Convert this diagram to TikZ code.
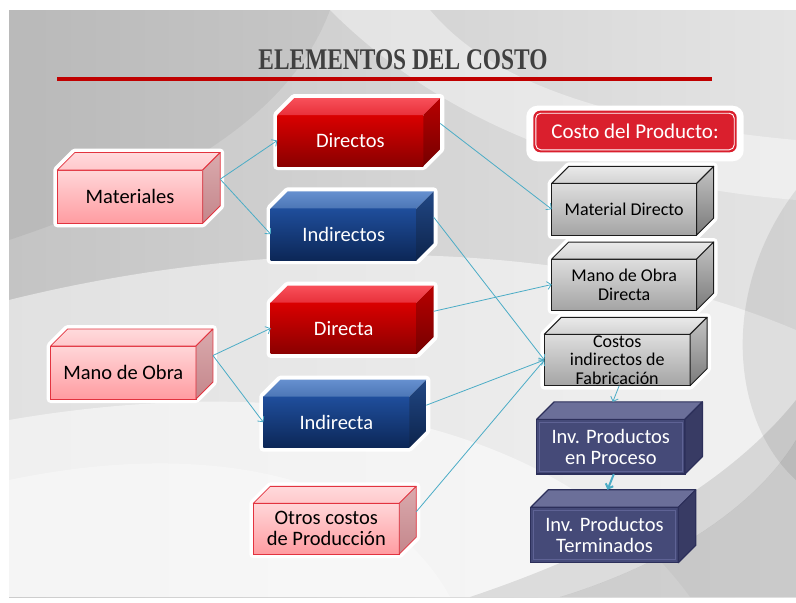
\documentclass[tikz,border=0pt]{standalone}
\usepackage{graphicx}
\usepackage{fontspec}
\setmainfont{Carlito}
\newfontfamily\titlefont{Liberation Serif}
\usetikzlibrary{arrows.meta}
\pgfdeclarelayer{bg}
\pgfdeclarelayer{glow}
\pgfsetlayers{bg,glow,main}

\definecolor{pinkTop}{HTML}{FFD6D8}
\definecolor{pinkBot}{HTML}{FF9CA1}
\definecolor{pinkBorder}{HTML}{E2333F}
\definecolor{pinkTF1}{HTML}{FFDADC}
\definecolor{pinkTF2}{HTML}{FFC8CB}
\definecolor{pinkS1}{HTML}{DAAAAD}
\definecolor{pinkS2}{HTML}{C4868B}
\definecolor{redTop}{HTML}{DA0000}
\definecolor{redBot}{HTML}{8A0000}
\definecolor{redTF1}{HTML}{F8505A}
\definecolor{redTF2}{HTML}{E8303A}
\definecolor{redS1}{HTML}{B80000}
\definecolor{redS2}{HTML}{760000}
\definecolor{blueTop}{HTML}{1F4E9C}
\definecolor{blueBot}{HTML}{0C2757}
\definecolor{blueTF1}{HTML}{6690CF}
\definecolor{blueTF2}{HTML}{4C76B6}
\definecolor{blueS1}{HTML}{214784}
\definecolor{blueS2}{HTML}{0D244C}
\definecolor{grayTop}{HTML}{DEDEDE}
\definecolor{grayBot}{HTML}{A4A4A4}
\definecolor{grayTF1}{HTML}{EAEAEA}
\definecolor{grayTF2}{HTML}{D2D2D2}
\definecolor{grayS1}{HTML}{C4C4C4}
\definecolor{grayS2}{HTML}{7A7A7A}
\definecolor{grayBorder}{HTML}{1C1C1C}
\definecolor{navyFront}{HTML}{454A78}
\definecolor{navyTF}{HTML}{6B6F99}
\definecolor{navySide}{HTML}{383B64}
\definecolor{navyBorder}{HTML}{2C2F5A}
\definecolor{navyInner}{HTML}{5E6294}
\definecolor{cdpRed}{HTML}{DA1F2D}
\definecolor{arrowc}{HTML}{4BACC6}
\definecolor{titleGray}{HTML}{404040}
\definecolor{titleRed}{HTML}{C00000}
\definecolor{bgA}{HTML}{C4C4C4}
\definecolor{bgB}{HTML}{E4E4E4}

\tikzset{
  fr/.style 2 args={rectangle, inner sep=0pt, outer sep=0pt, minimum width=#1pt, minimum height=#2pt, align=center},
  pinkbox/.style={top color=pinkTop, bottom color=pinkBot, draw=pinkBorder, line width=0.8pt, text=black, font=\fontsize{20.5}{21}\selectfont},
  pinktopf/.style={top color=pinkTF1, bottom color=pinkTF2, draw=pinkBorder, line width=0.8pt, line join=round},
  pinksidef/.style={top color=pinkS1, bottom color=pinkS2, draw=pinkBorder, line width=0.8pt, line join=round},
  redbox/.style={top color=redTop, bottom color=redBot, text=white, font=\fontsize{20.5}{21}\selectfont},
  redtopf/.style={top color=redTF1, bottom color=redTF2},
  redsidef/.style={top color=redS1, bottom color=redS2},
  bluebox/.style={top color=blueTop, bottom color=blueBot, text=white, font=\fontsize{20.5}{21}\selectfont},
  bluetopf/.style={top color=blueTF1, bottom color=blueTF2},
  bluesidef/.style={top color=blueS1, bottom color=blueS2},
  graybox/.style={top color=grayTop, bottom color=grayBot, draw=grayBorder, line width=1pt, text=black, font=\fontsize{18}{18.7}\selectfont},
  graytopf/.style={top color=grayTF1, bottom color=grayTF2, draw=grayBorder, line width=1pt, line join=round},
  graysidef/.style={top color=grayS1, bottom color=grayS2, draw=grayBorder, line width=1pt, line join=round},
  navybox/.style={fill=navyFront, draw=navyBorder, line width=1.2pt, text=white, font=\fontsize{20.5}{21}\selectfont},
  navytopf/.style={fill=navyTF, draw=navyBorder, line width=1.2pt, line join=round},
  navysidef/.style={fill=navySide, draw=navyBorder, line width=1.2pt, line join=round},
  navyin/.style={draw=navyInner, line width=0.8pt},
  glowline/.style={draw=white, fill=white, line width=8pt, line join=round},
  arr/.style={draw=arrowc, line width=0.8pt, -{Straight Barb[length=4pt,width=8pt]}},
  arrthick/.style={draw=arrowc, line width=2pt, -{Straight Barb[length=4pt,width=8pt]}},
}

\newcommand\cubefaces[4]{%
  \path[#3] (#1.north west) -- ([shift={(#2pt,#2pt)}]#1.north west) -- ([shift={(#2pt,#2pt)}]#1.north east) -- (#1.north east) -- cycle;
  \path[#4] (#1.north east) -- ([shift={(#2pt,#2pt)}]#1.north east) -- ([shift={(#2pt,#2pt)}]#1.south east) -- (#1.south east) -- cycle;
}
\newcommand\cubeglow[2]{%
  \begin{pgfonlayer}{glow}
  \path[glowline] (#1.south west) -- (#1.north west) -- ([shift={(#2pt,#2pt)}]#1.north west) -- ([shift={(#2pt,#2pt)}]#1.north east) -- ([shift={(#2pt,#2pt)}]#1.south east) -- (#1.south east) -- cycle;
  \end{pgfonlayer}
}

\begin{document}
\begin{tikzpicture}[x=1pt,y=-1pt]
\useasboundingbox (0,0) rectangle (796,603);

% ---------- background slide ----------
\begin{pgfonlayer}{bg}
\fill[white] (0,0) rectangle (796,603);
\shade[left color=bgA, right color=bgB] (9,10) rectangle (796,597);
\begin{scope}
\clip (9,10) rectangle (796,597);
\fill[black, opacity=0.05] (9,10) -- (330,10) .. controls (300,90) and (220,170) .. (9,240) -- cycle;
\fill[white, opacity=0.40] (330,10) -- (430,10) .. controls (480,70) and (580,120) .. (796,140) -- (796,200) .. controls (560,180) and (420,100) .. (330,10) -- cycle;
\fill[white, opacity=0.50] (9,300) .. controls (250,240) and (560,230) .. (796,330) -- (796,597) -- (9,597) -- cycle;
\fill[white, opacity=0.50] (9,420) .. controls (300,370) and (560,420) .. (690,597) -- (9,597) -- cycle;
\fill[white, opacity=0.35] (9,480) .. controls (200,440) and (380,470) .. (450,597) -- (9,597) -- cycle;
\fill[black, opacity=0.08] (796,190) .. controls (720,290) and (730,420) .. (796,480) -- cycle;
\fill[black, opacity=0.16] (560,597) .. controls (680,560) and (760,500) .. (796,440) -- (796,597) -- cycle;
\fill[black, opacity=0.10] (470,597) .. controls (640,540) and (740,470) .. (796,400) -- (796,440) .. controls (760,500) and (680,560) .. (560,597) -- cycle;
\end{scope}
\end{pgfonlayer}

% ---------- title ----------
\node[font=\titlefont\bfseries\fontsize{30}{30}\selectfont, text=titleGray, anchor=base, inner sep=0pt] (title) at (403,69) {\scalebox{0.78}[1]{ELEMENTOS DEL COSTO}};
\coordinate (ruleL) at (57,79);
\coordinate (ruleR) at (712,79);
\draw[titleRed, line width=4pt] (ruleL) -- (ruleR);

% ---------- left column (pink) ----------
\node[fr={145.4}{53.3}, pinkbox] (mat) at (130,196.7) {Materiales};
\cubefaces{mat}{17.5}{pinktopf}{pinksidef}\cubeglow{mat}{17.5}
\node[fr={145.3}{53}, pinkbox] (mob) at (123.3,372.5) {Mano de Obra};
\cubefaces{mob}{17}{pinktopf}{pinksidef}\cubeglow{mob}{17}
\node[fr={146}{50.7}, pinkbox] (otr) at (326.3,528.7) {Otros costos\\de Producción};
\cubefaces{otr}{17}{pinktopf}{pinksidef}\cubeglow{otr}{17}

% ---------- middle column ----------
\node[fr={146}{51}, redbox] (dir) at (350.3,140.5) {Directos};
\cubefaces{dir}{17}{redtopf}{redsidef}\cubeglow{dir}{17}
\node[fr={146}{51.7}, bluebox] (ind) at (343.7,234.2) {Indirectos};
\cubefaces{ind}{17}{bluetopf}{bluesidef}\cubeglow{ind}{17}
\node[fr={146}{51.3}, redbox] (dia) at (343.7,328.3) {Directa};
\cubefaces{dia}{17}{redtopf}{redsidef}\cubeglow{dia}{17}
\node[fr={146}{51}, bluebox] (ina) at (336.3,422.2) {Indirecta};
\cubefaces{ina}{17}{bluetopf}{bluesidef}\cubeglow{ina}{17}

% ---------- right column ----------
\node[fr={203.4}{41.6}, rounded corners=7pt, fill=cdpRed, text=white, font=\fontsize{21}{22}\selectfont] (cdp) at (635,131.5) {Costo del Producto:};
\draw[white, line width=0.9pt, rounded corners=5pt] ([shift={(2.5pt,-2.5pt)}]cdp.north west) rectangle ([shift={(-2.5pt,2.5pt)}]cdp.south east);
\begin{pgfonlayer}{glow}
\fill[white, rounded corners=11pt] ([shift={(-7pt,5pt)}]cdp.north west) rectangle ([shift={(7pt,-9pt)}]cdp.south east);
\end{pgfonlayer}

\node[fr={145}{51.7}, graybox] (md) at (624.2,209.2) {Material Directo};
\cubefaces{md}{17}{graytopf}{graysidef}\cubeglow{md}{17}
\node[fr={145}{51}, graybox] (mod) at (624.2,284.5) {Mano de Obra\\Directa};
\cubefaces{mod}{17}{graytopf}{graysidef}\cubeglow{mod}{17}
\node[fr={145.7}{51.4}, graybox] (cif) at (617.2,360) {Costos\\indirectos de\\Fabricación};
\cubefaces{cif}{17}{graytopf}{graysidef}\cubeglow{cif}{17}

\node[fr={148.3}{54.7}, navybox] (ipp) at (610.8,446.7) {Inv. Productos\\en Proceso};
\cubefaces{ipp}{17.5}{navytopf}{navysidef}
\draw[navyin] ([shift={(3pt,-3pt)}]ipp.north west) rectangle ([shift={(-3pt,3pt)}]ipp.south east);
\node[fr={147.6}{55.4}, navybox] (ipt) at (604.5,535) {Inv. Productos\\Terminados};
\cubefaces{ipt}{17.5}{navytopf}{navysidef}
\draw[navyin] ([shift={(3pt,-3pt)}]ipt.north west) rectangle ([shift={(-3pt,3pt)}]ipt.south east);

% ---------- connectors ----------
\coordinate (matO) at ([shift={(17.5pt,17.5pt)}]mat.east);
\coordinate (mobO) at ([shift={(17pt,17pt)}]mob.east);
\coordinate (otrO) at ([shift={(17pt,17pt)}]otr.east);
\coordinate (dirO) at ([shift={(17pt,17pt)}]dir.east);
\coordinate (indO) at ([shift={(17pt,17pt)}]ind.east);
\coordinate (diaO) at ([shift={(17pt,17pt)}]dia.east);
\coordinate (inaO) at ([shift={(17pt,17pt)}]ina.east);
\coordinate (cifO) at ([xshift=2pt]cif.south);
\coordinate (ippI) at ([shift={(2pt,17.5pt)}]ipp.north);
\coordinate (ippO) at ([xshift=3pt]ipp.south);
\coordinate (iptI) at ([shift={(3pt,17.5pt)}]ipt.north);

\draw[arr] (matO) -- (dir.west);
\draw[arr] (matO) -- (ind.west);
\draw[arr] (mobO) -- (dia.west);
\draw[arr] (mobO) -- (ina.west);
\draw[arr] (dirO) -- (md.west);
\draw[arr] (indO) -- (cif.west);
\draw[arr] (diaO) -- (mod.west);
\draw[arr] (inaO) -- (cif.west);
\draw[arr] (otrO) -- (cif.west);
\draw[arr] (cifO) -- (ippI);
\draw[arrthick] (ippO) -- (iptI);
\end{tikzpicture}
\end{document}
